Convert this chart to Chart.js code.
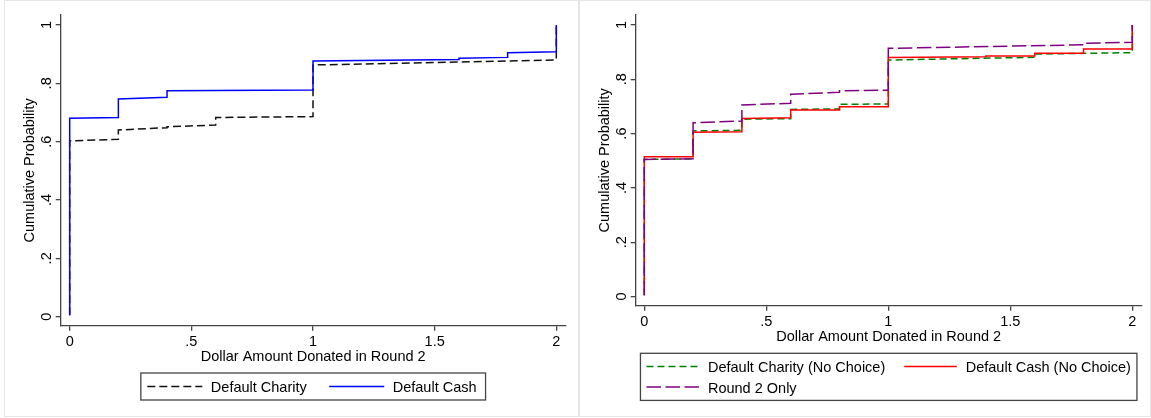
<!DOCTYPE html>
<html><head><meta charset="utf-8">
<script src="https://cdn.jsdelivr.net/npm/chart.js@4/dist/chart.umd.min.js"></script>
<style>
html,body{margin:0;padding:0;background:#fff;width:1151px;height:418px;overflow:hidden;}
canvas{position:absolute;top:0;}
#cL{left:0}
#cR{left:578px}
.panel{position:absolute;top:0;height:417px;box-sizing:border-box;border:1px solid #e6e6e6;pointer-events:none;}
</style></head><body>
<canvas id="cL" width="578" height="418"></canvas>
<canvas id="cR" width="573" height="418"></canvas>
<div class="panel" style="left:4px;width:575px"></div>
<div class="panel" style="left:579px;width:572px"></div>
<script>
// ---------- DATA ----------
const amountTicks = [0, 0.5, 1, 1.5, 2];
const amountTickLabels = ['0', '.5', '1', '1.5', '2'];
const probTicks = [0, 0.2, 0.4, 0.6, 0.8, 1];
const probTickLabels = ['0', '.2', '.4', '.6', '.8', '1'];
const xTitle = 'Dollar Amount Donated in Round 2';
const yTitle = 'Cumulative Probability';

// Left panel: ECDF vertices (amount, cumulative probability)
const charityLabel = 'Default Charity';
const charityX = [0, 0, 0.2, 0.2, 0.4, 0.4, 0.6, 0.6, 1.0, 1.0, 1.6, 2.0, 2.0];
const charityY = [0.005, 0.603, 0.608, 0.640, 0.648, 0.651, 0.657, 0.683, 0.686, 0.863, 0.873, 0.880, 1.0];

const cashLabel = 'Default Cash';
const cashX = [0, 0, 0.2, 0.2, 0.4, 0.4, 1.0, 1.0, 1.6, 1.6, 1.8, 1.8, 2.0, 2.0];
const cashY = [0.005, 0.680, 0.683, 0.746, 0.752, 0.775, 0.777, 0.877, 0.882, 0.886, 0.889, 0.905, 0.908, 1.0];

// Right panel
const ncCharityLabel = 'Default Charity (No Choice)';
const ncCharityX = [0, 0, 0.2, 0.2, 0.4, 0.4, 0.6, 0.6, 0.8, 0.8, 1.0, 1.0, 1.6, 1.6, 2.0, 2.0];
const ncCharityY = [0.005, 0.505, 0.507, 0.610, 0.612, 0.653, 0.655, 0.689, 0.691, 0.708, 0.709, 0.871, 0.881, 0.893, 0.898, 1.0];

const ncCashLabel = 'Default Cash (No Choice)';
const ncCashX = [0, 0, 0.2, 0.2, 0.4, 0.4, 0.6, 0.6, 0.8, 0.8, 1.0, 1.0, 1.4, 1.4, 1.6, 1.6, 1.8, 1.8, 2.0, 2.0];
const ncCashY = [0.005, 0.515, 0.515, 0.605, 0.607, 0.656, 0.658, 0.687, 0.687, 0.699, 0.699, 0.880, 0.883, 0.886, 0.886, 0.896, 0.896, 0.912, 0.912, 1.0];

const round2Label = 'Round 2 Only';
const round2X = [0, 0, 0.2, 0.2, 0.4, 0.4, 0.6, 0.6, 0.8, 0.8, 1.0, 1.0, 1.8, 1.8, 2.0, 2.0];
const round2Y = [0.005, 0.505, 0.507, 0.640, 0.646, 0.705, 0.712, 0.745, 0.752, 0.758, 0.760, 0.914, 0.927, 0.933, 0.936, 1.0];

// ---------- STYLE / LAYOUT ----------
const FONT = "'Liberation Sans', Arial, sans-serif";
const FS = 14.5;
Chart.defaults.font.family = FONT;
Chart.defaults.font.size = FS;
Chart.defaults.color = '#000';

function series(xs, ys) { return xs.map((x, i) => ({ x: x, y: ys[i] })); }

function lineDs(label, xs, ys, color, dash, order) {
  return {
    label: label, data: series(xs, ys), borderColor: color, backgroundColor: color,
    borderDash: dash, borderWidth: 1.5, pointRadius: 0, tension: 0, fill: false,
    borderCapStyle: 'butt', borderJoinStyle: 'miter', order: order
  };
}

const axisColor = '#444';
function buildScales(xr, yr) {
  const grid = { display: true, drawOnChartArea: false, drawTicks: true, tickLength: 5, color: axisColor, lineWidth: 1.3 };
  const border = { display: true, color: axisColor, width: 1.3 };
  return {
    x: {
      type: 'linear', min: xr[0], max: xr[1],
      afterBuildTicks: s => { s.ticks = amountTicks.map(v => ({ value: v })); },
      afterFit: s => { s.height = 40.1; },
      ticks: { autoSkip: false, minRotation: 0, maxRotation: 0, padding: 2.7, color: '#000',
               callback: (v, i) => amountTickLabels[i] },
      grid: grid, border: border,
      title: { display: true, text: xTitle, color: '#000', padding: 0, font: { size: FS } }
    },
    y: {
      type: 'linear', min: yr[0], max: yr[1],
      afterBuildTicks: s => { s.ticks = probTicks.map(v => ({ value: v })); },
      afterFit: s => { s.width = 39.9; },
      ticks: { autoSkip: false, minRotation: 90, maxRotation: 90, crossAlign: 'center', padding: 2.9, color: '#000',
               callback: (v, i) => probTickLabels[i] },
      grid: grid, border: border,
      title: { display: true, text: yTitle, color: '#000', padding: 0, font: { size: FS } }
    }
  };
}

const stataLegend = {
  id: 'stataLegend',
  afterDraw(chart, args, o) {
    const ctx = chart.ctx, ca = chart.chartArea;
    const items = chart.data.datasets;
    const cols = o.columns;
    const rows = Math.ceil(items.length / cols);
    ctx.save();
    ctx.font = FS + 'px ' + FONT;
    const colW = [];
    for (let c = 0; c < cols; c++) {
      let w = 0;
      for (let r = 0; r < rows; r++) {
        const it = items[r * cols + c];
        if (it) w = Math.max(w, ctx.measureText(it.label).width);
      }
      colW.push(w);
    }
    let width = o.padL + o.padR + (cols - 1) * o.colGap;
    colW.forEach(w => { width += o.keyLen + o.keyGap + w; });
    const height = 2 * o.padV + (rows - 1) * o.rowH;
    const cx = (ca.left + ca.right) / 2;
    const left = cx - width / 2, top = ca.bottom + o.offsetTop;
    ctx.fillStyle = '#fff';
    ctx.fillRect(left, top, width, height);
    ctx.strokeStyle = '#444';
    ctx.lineWidth = 1.3;
    ctx.strokeRect(left, top, width, height);
    const colX = [];
    let x0 = left + o.padL;
    colW.forEach(w => { colX.push(x0); x0 += o.keyLen + o.keyGap + w + o.colGap; });
    items.forEach((ds, i) => {
      const r = Math.floor(i / cols), c = i % cols;
      const y = top + o.padV + r * o.rowH;
      const kx = colX[c];
      ctx.beginPath();
      ctx.setLineDash(ds.borderDash || []);
      ctx.strokeStyle = ds.borderColor;
      ctx.lineWidth = ds.borderWidth;
      ctx.moveTo(kx, y); ctx.lineTo(kx + o.keyLen, y);
      ctx.stroke();
      ctx.setLineDash([]);
      ctx.fillStyle = '#000';
      ctx.textAlign = 'left';
      ctx.textBaseline = 'middle';
      ctx.fillText(ds.label, kx + o.keyLen + o.keyGap, y + 1.6);
    });
    ctx.restore();
  }
};

function baseOptions(pad, xr, yr, legendOpts) {
  return {
    responsive: false, animation: false, devicePixelRatio: 1,
    layout: { padding: pad },
    scales: buildScales(xr, yr),
    plugins: { legend: { display: false }, tooltip: { enabled: false }, stataLegend: legendOpts }
  };
}

new Chart(document.getElementById('cL'), {
  type: 'line',
  data: { datasets: [
    lineDs(charityLabel, charityX, charityY, '#111111', [8, 4], 2),
    lineDs(cashLabel, cashX, cashY, '#0000ff', [], 1)
  ] },
  options: baseOptions({ left: 20.8, top: 15, right: 12.3, bottom: 52.2 },
    [-0.037, 2.0386], [-0.0309, 1.0343],
    { columns: 2, padL: 6.5, padR: 9, keyLen: 55, keyGap: 8.5, colGap: 22.5, padV: 13.5, rowH: 20.5, offsetTop: 47.3 }),
  plugins: [stataLegend]
});

new Chart(document.getElementById('cR'), {
  type: 'line',
  data: { datasets: [
    lineDs(ncCharityLabel, ncCharityX, ncCharityY, '#008000', [7, 4], 3),
    lineDs(ncCashLabel, ncCashX, ncCashY, '#ff0000', [], 2),
    lineDs(round2Label, round2X, round2Y, '#800080', [14.5, 4.5], 1)
  ] },
  options: baseOptions({ left: 17.8, top: 15, right: 9.3, bottom: 72.2 },
    [-0.0352, 2.0385], [-0.0339, 1.0368],
    { columns: 2, padL: 6, padR: 6, keyLen: 52.5, keyGap: 9, colGap: 19, padV: 13.3, rowH: 20.5, offsetTop: 47.6 }),
  plugins: [stataLegend]
});
</script>
</body></html>
